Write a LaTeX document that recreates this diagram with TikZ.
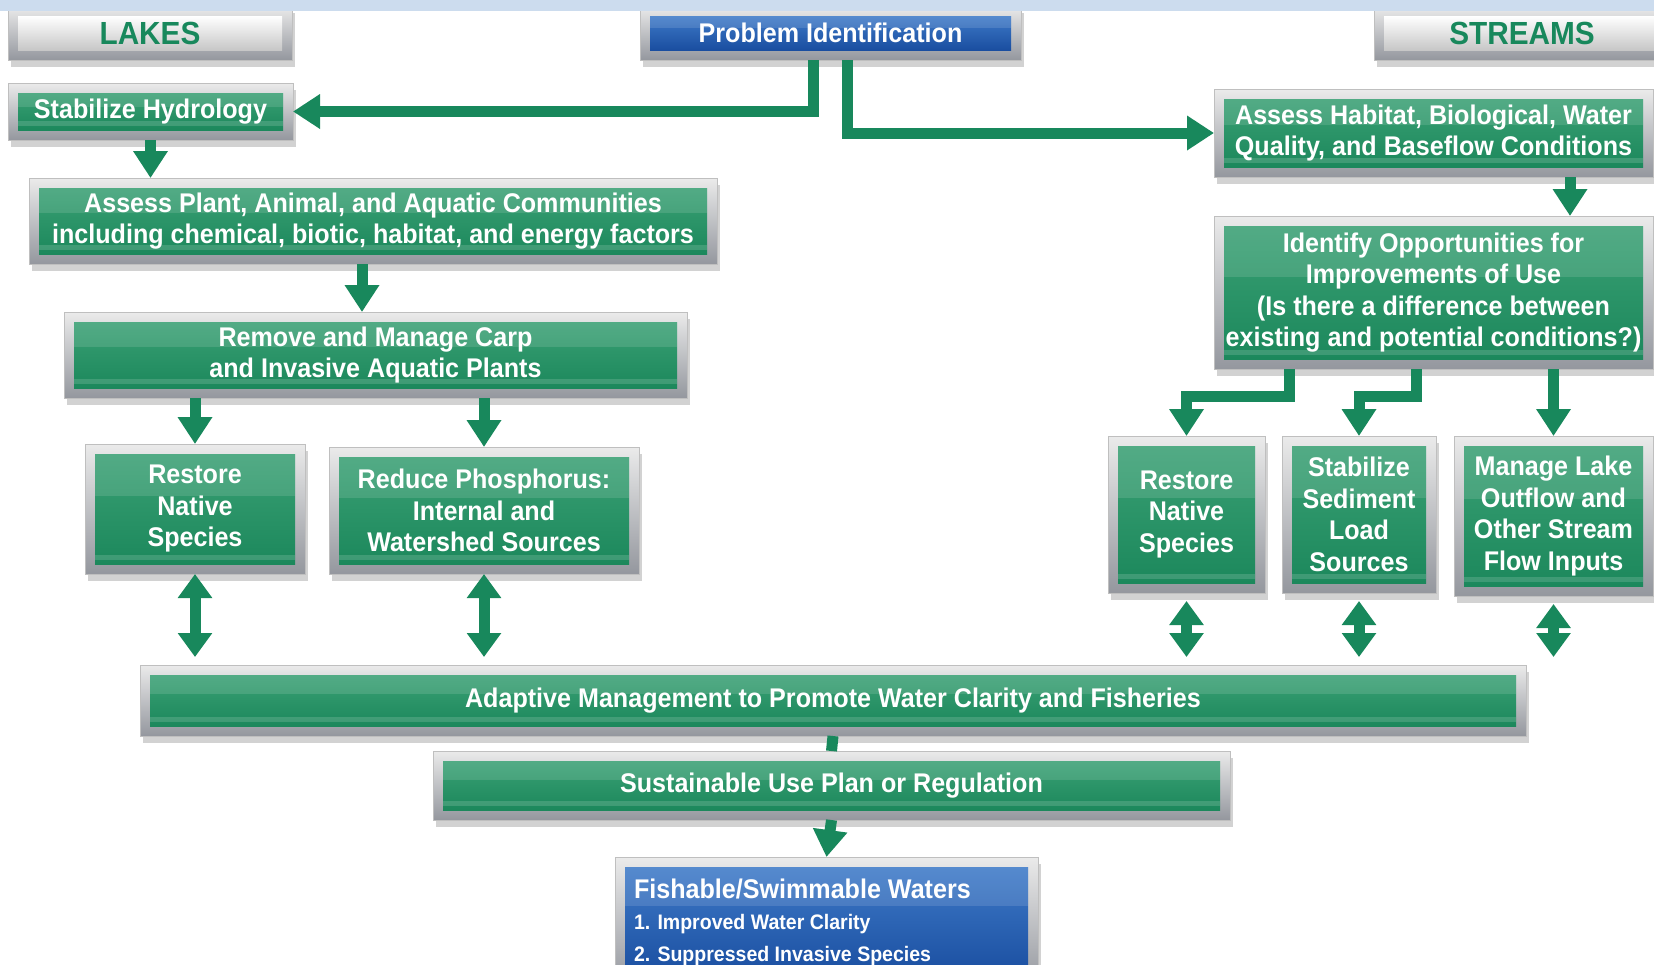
\documentclass[tikz,border=0pt]{standalone}
\usepackage{fontspec}
\setmainfont{Liberation Sans}[FakeStretch=0.93]
\usetikzlibrary{calc,arrows.meta,shadows,backgrounds}

\definecolor{boxgreen}{RGB}{28,136,92}
\definecolor{boxgreenlt}{RGB}{58,160,116}
\definecolor{arrowgreen}{RGB}{24,136,92}
\definecolor{boxblue}{RGB}{26,78,160}
\definecolor{boxbluelt}{RGB}{62,122,200}
\definecolor{framegrey}{RGB}{148,151,158}
\definecolor{bandblue}{RGB}{204,220,238}

\newcommand\boxfont{\fontsize{27}{31.5}\selectfont\bfseries}

\tikzset{
  panel/.style={rectangle, inner sep=0pt, outer sep=10pt, align=flush center, text=white, font=\boxfont},
  greenpanel/.style={panel, top color=boxgreenlt, bottom color=boxgreen, path picture={
      \fill[white,opacity=.12] (path picture bounding box.north west) rectangle ($(path picture bounding box.north east)!.38!(path picture bounding box.south east)$);
      \fill[white,opacity=.15] ($(path picture bounding box.south west)+(0,-4)$) rectangle ($(path picture bounding box.south east)+(0,-9)$);}},
  bluepanel/.style={panel, top color=boxbluelt, bottom color=boxblue, path picture={
      \fill[white,opacity=.12] (path picture bounding box.north west) rectangle ($(path picture bounding box.north east)!.35!(path picture bounding box.south east)$);}},
  titlepanel/.style={panel, top color=white, bottom color=black!22, text=arrowgreen, font=\fontsize{32}{36}\selectfont\bfseries},
  boxframe/.style={top color=white!92!black, bottom color=framegrey, draw=black!25, line width=0.8pt,
      drop shadow={opacity=.35, shadow xshift=3pt, shadow yshift=-7pt}},
  flow/.style={draw=arrowgreen, line width=11pt, -{Triangle[width=33pt,length=27pt]}},
  twoway/.style={draw=arrowgreen, line width=11pt, {Triangle[width=33pt,length=24pt]}-{Triangle[width=33pt,length=24pt]}},
  joinline/.style={draw=arrowgreen, line width=11pt}
}

\begin{document}
\begin{tikzpicture}[x=1pt,y=-1pt]
\useasboundingbox (0,0) rectangle (1654,964);

\node[titlepanel, minimum width=264pt, minimum height=34pt] (lakes) at (150,33) {LAKES};
\node[bluepanel, minimum width=361pt, minimum height=34pt] (probid) at (830.5,33) {Problem Identification};
\node[titlepanel, minimum width=276pt, minimum height=34pt] (streams) at (1522,33) {STREAMS};

\node[greenpanel, minimum width=265pt, minimum height=37pt] (stabhyd) at (150.5,111.5) {Stabilize Hydrology};
\node[greenpanel, minimum width=668pt, minimum height=66pt] (plant) at (373,221)
  {Assess Plant, Animal, and Aquatic Communities\\including chemical, biotic, habitat, and energy factors};
\node[greenpanel, minimum width=603pt, minimum height=66pt] (remove) at (375.5,355)
  {Remove and Manage Carp\\and Invasive Aquatic Plants};
\node[greenpanel, minimum width=200pt, minimum height=110pt] (restoreL) at (195,509) {Restore\\Native\\Species};
\node[greenpanel, minimum width=290pt, minimum height=107pt] (reduce) at (484,510.5)
  {Reduce Phosphorus:\\Internal and\\Watershed Sources};

\node[greenpanel, minimum width=419pt, minimum height=68pt] (habitat) at (1433.5,133)
  {Assess Habitat, Biological, Water\\Quality, and Baseflow Conditions};
\node[greenpanel, minimum width=419pt, minimum height=133pt] (identify) at (1433.5,292.5)
  {Identify Opportunities for\\Improvements of Use\\(Is there a difference between\\existing and potential conditions?)};
\node[greenpanel, minimum width=137pt, minimum height=137pt] (restoreR) at (1186.5,514.5) {Restore\\Native\\Species};
\node[greenpanel, minimum width=134pt, minimum height=137pt] (sediment) at (1359,514.5) {Stabilize\\Sediment\\Load\\Sources};
\node[greenpanel, minimum width=179pt, minimum height=140pt] (manage) at (1553.5,516)
  {Manage Lake\\Outflow and\\Other Stream\\Flow Inputs};

\node[greenpanel, minimum width=1366pt, minimum height=51pt] (adapt) at (833,700.5)
  {Adaptive Management to Promote Water Clarity and Fisheries};
\node[greenpanel, minimum width=777pt, minimum height=49pt] (sustain) at (831.5,785.5)
  {Sustainable Use Plan or Regulation};
\node[bluepanel, minimum width=403pt, minimum height=110pt, align=flush left, text width=385pt] (fish) at (826.5,922)
  {{\fontsize{27}{32}\selectfont Fishable/Swimmable Waters}\\
   {\fontsize{21}{29}\selectfont 1. Improved Water Clarity}\\
   {\fontsize{21}{29}\selectfont 2. Suppressed Invasive Species}};

\begin{pgfonlayer}{background}
\fill[white] (0,0) rectangle (1654,964);
\foreach \n in {lakes,probid,streams,stabhyd,plant,remove,restoreL,reduce,habitat,identify,restoreR,sediment,manage,adapt,sustain,fish}
  \path[boxframe] (\n.south west) rectangle (\n.north east);
\end{pgfonlayer}

\draw[flow] ([xshift=-17.5pt]probid.south) |- (stabhyd.east);
\draw[flow] ([xshift=16.5pt]probid.south) |- (habitat.west);
\draw[flow] (stabhyd.south) -- (stabhyd.south |- plant.north);
\draw[flow] ([xshift=-11pt]plant.south) -- ([xshift=-11pt]plant.south |- remove.north);
\draw[flow] (restoreL.north |- remove.south) -- (restoreL.north);
\draw[flow] (reduce.north |- remove.south) -- (reduce.north);
\draw[flow] ([xshift=136.5pt]habitat.south) -- ([xshift=136.5pt]habitat.south |- identify.north);
\draw[flow] ([xshift=-144.5pt]identify.south) -- ++(0,27) -| (restoreR.north);
\draw[flow] ([xshift=-17.5pt]identify.south) -- ++(0,27) -| (sediment.north);
\draw[flow] (manage.north |- identify.south) -- (manage.north);
\foreach \n in {restoreL,reduce}
  \draw[twoway, shorten >=8pt] (\n.south) -- (\n.south |- adapt.north);
\foreach \n in {restoreR,sediment,manage}
  \draw[twoway, shorten <=8pt, shorten >=8pt] (\n.south) -- (\n.south |- adapt.north);
\draw[joinline] (adapt.south) -- (sustain.north);
\draw[flow] (sustain.south) -- (fish.north);

\fill[bandblue] (0,0) rectangle (1654,11);
\end{tikzpicture}
\end{document}
